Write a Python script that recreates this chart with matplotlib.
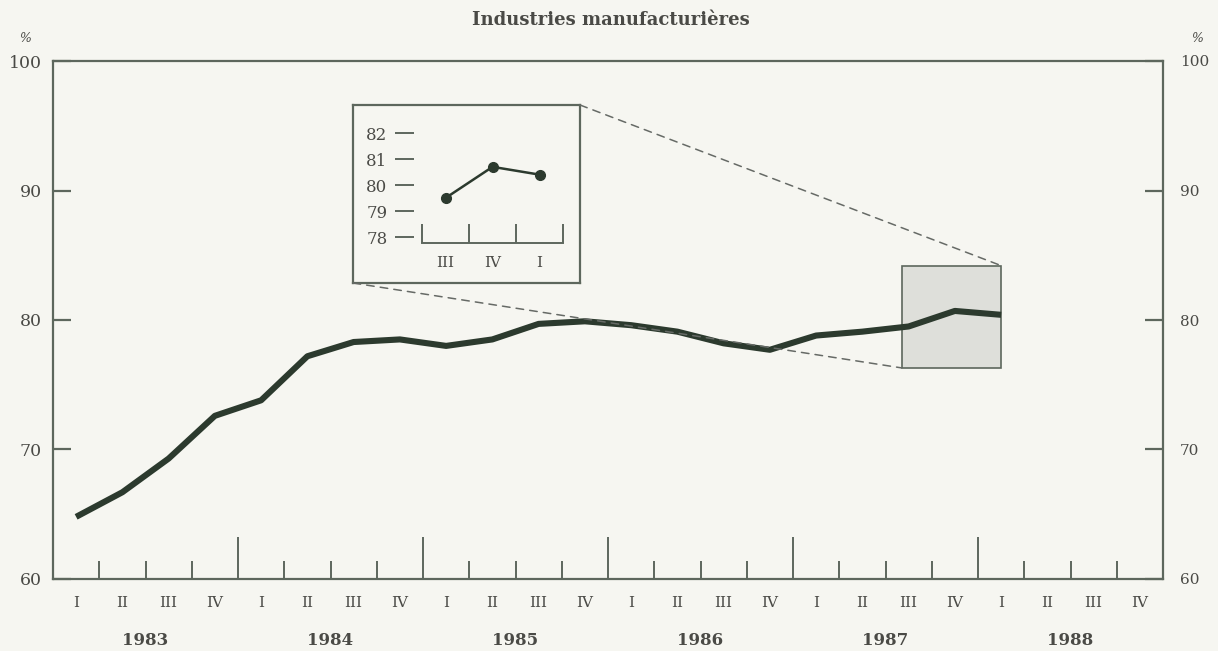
import numpy as np
import matplotlib
matplotlib.use("Agg")
import matplotlib.pyplot as plt
from matplotlib.patches import Rectangle, ConnectionPatch

# capacity utilisation, manufacturing, quarterly 1983 Q1 - 1988 Q1
values = [64.8, 66.7, 69.3, 72.6, 73.8, 77.2, 78.3, 78.5,
          78.0, 78.5, 79.7, 79.9, 79.6, 79.1, 78.2, 77.7,
          78.8, 79.1, 79.5, 80.7, 80.4]
years = ["1983", "1984", "1985", "1986", "1987", "1988"]
quarters = ["I", "II", "III", "IV"]

inset_labels = ["III", "IV", "I"]
inset_values = [79.5, 80.7, 80.4]

# zoom box (quarter index, %)
box_x = [18.35, 20.5]
box_y = [76.3, 84.2]

BG = "#f6f6f1"
TXT = "#4a4a46"
FRAME = "#5d675d"
LINE = "#2c3a2e"

plt.rcParams['font.family'] = ['DejaVu Serif']
plt.rcParams['text.color'] = TXT
plt.rcParams['xtick.color'] = FRAME
plt.rcParams['ytick.color'] = FRAME
plt.rcParams['xtick.labelcolor'] = TXT
plt.rcParams['ytick.labelcolor'] = TXT

fig = plt.figure(figsize=(12.18, 6.51), dpi=100, facecolor=BG)
ax = fig.add_axes([53 / 1218, 72 / 651, 1110 / 1218, 518 / 651], facecolor=BG)

nq = len(years) * 4
x = np.arange(len(values)) + 0.5
ax.plot(x, values, color=LINE, lw=4.4, solid_capstyle='butt', zorder=4)

ax.set_xlim(0, nq)
ax.set_ylim(60, 100)
for s in ax.spines.values():
    s.set_color(FRAME)
    s.set_linewidth(1.6)

# quarter boundaries: tall at year change, short otherwise
ax.set_xticks(np.arange(4, nq, 4))
ax.set_xticks([i for i in range(1, nq) if i % 4], minor=True)
ax.tick_params(axis='x', which='major', direction='in', length=30, width=1.4, labelbottom=False)
ax.tick_params(axis='x', which='minor', direction='in', length=13, width=1.4, labelbottom=False)

yticks = [60, 70, 80, 90, 100]
ax.set_yticks(yticks)
ax.tick_params(axis='y', direction='in', length=13, width=1.6, labelsize=12.5, pad=8)

# right-hand scale
ax2 = ax.twinx()
ax2.set_ylim(60, 100)
ax2.set_yticks(yticks)
ax2.tick_params(axis='y', direction='in', length=13, width=1.6, labelsize=11, pad=12)
for s in ax2.spines.values():
    s.set_visible(False)

sec_q = ax.secondary_xaxis('bottom')
sec_q.set_xticks(np.arange(nq) + 0.5)
sec_q.set_xticklabels(quarters * len(years))
sec_q.tick_params(length=0, pad=12, labelsize=11)
sec_q.spines['bottom'].set_visible(False)

sec_y = ax.secondary_xaxis('bottom')
sec_y.set_xticks(np.arange(len(years)) * 4 + 2)
sec_y.set_xticklabels(years, fontweight='bold')
sec_y.tick_params(length=0, pad=38, labelsize=12)
sec_y.spines['bottom'].set_visible(False)

ax.text(-0.025, 1.03, "%", transform=ax.transAxes, ha='center', va='bottom',
        fontsize=9, style='italic')
ax.text(1.031, 1.03, "%", transform=ax.transAxes, ha='center', va='bottom',
        fontsize=9, style='italic')
fig.text(611 / 1218, 1 - 20 / 651, "Industries manufacturières", ha='center',
         va='center', fontsize=13, fontweight='bold')

# shaded zoom region
ax.add_patch(Rectangle((box_x[0], box_y[0]), box_x[1] - box_x[0], box_y[1] - box_y[0],
                       facecolor="#dedfda", edgecolor=FRAME, lw=1.2, zorder=3))

# inset frame
frame = fig.add_axes([353 / 1218, 368 / 651, 227 / 1218, 178 / 651], facecolor=BG)
frame.set_xticks([])
frame.set_yticks([])
for s in frame.spines.values():
    s.set_color(FRAME)
    s.set_linewidth(1.6)

ins = fig.add_axes([414 / 1218, 408 / 651, 151 / 1218, 118 / 651])
ins.patch.set_alpha(0)
ix = np.arange(len(inset_values)) + 0.5
ins.plot(ix, inset_values, color=LINE, lw=1.8, marker='o', ms=7, zorder=3)
ins.set_xlim(-0.17, 3.04)
ins.set_ylim(77.77, 82.31)
for side in ['top', 'right', 'left']:
    ins.spines[side].set_visible(False)
ins.spines['bottom'].set_bounds(0, 3)
ins.spines['bottom'].set_color(FRAME)
ins.spines['bottom'].set_linewidth(1.4)
ins.set_yticks([78, 79, 80, 81, 82])
ins.tick_params(axis='y', direction='out', length=14, width=1.4, pad=5, labelsize=12)
ins.set_xticks([0, 1, 2, 3])
ins.set_xticks(ix, minor=True)
ins.set_xticklabels(inset_labels, minor=True)
ins.tick_params(axis='x', which='major', direction='in', length=14, width=1.4, labelbottom=False)
ins.tick_params(axis='x', which='minor', length=0, pad=9, labelsize=11)

# dashed leader lines from inset to zoom box
for ca, cb in [((1, 1), (box_x[1], box_y[1])), ((0, 0), (box_x[0], box_y[0]))]:
    con = ConnectionPatch(xyA=ca, coordsA=frame.transAxes, xyB=cb, coordsB=ax.transData,
                          color="#666a66", lw=1.1, linestyle=(0, (5, 4)))
    fig.add_artist(con)

fig.savefig("out.png", dpi=100, facecolor=BG)
